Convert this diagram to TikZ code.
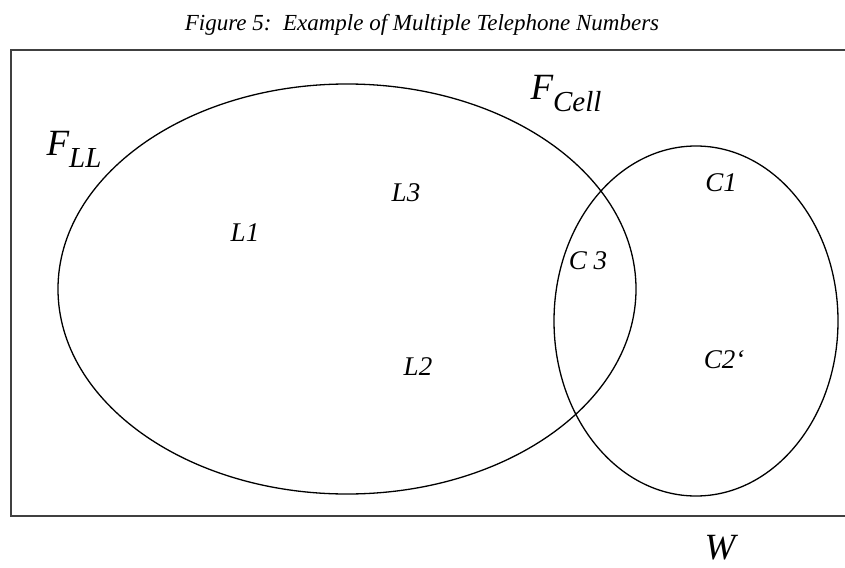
\documentclass[tikz,border=0pt]{standalone}
\usepackage{fontspec}
\setmainfont{Liberation Serif}
\begin{document}
\begin{tikzpicture}[x=1pt,y=-1pt,
  setline/.style={line width=1.3pt,black},
  frame/.style={line width=2.6pt,black!75},
  lbl/.style={inner sep=0pt,font=\fontsize{27}{27}\selectfont\itshape},
  biglbl/.style={inner sep=0pt,font=\fontsize{37}{37}\selectfont\itshape},
  ttl/.style={inner sep=0pt,font=\fontsize{23}{23}\selectfont\itshape}]
\useasboundingbox (0,0) rectangle (845,567);
\fill[white] (0,0) rectangle (845,567);
\node[ttl] (title) at (422,25) {Figure 5:\ \ Example of Multiple Telephone Numbers};
\draw[frame] (846,50) -- (11,50) -- (11,516) -- (846,516);
\draw[setline] (347,289) ellipse [x radius=289, y radius=205];
\draw[setline] (696,321) ellipse [x radius=142, y radius=175];
\node[biglbl] (fll) at (74,149) {F\raisebox{-12pt}{\fontsize{29}{29}\selectfont LL}};
\node[biglbl] (fcell) at (566,94) {F\raisebox{-12pt}{\fontsize{29}{29}\selectfont Cell}};
\node[lbl] (l1) at (245,233) {L1};
\node[lbl] (l3) at (406,193) {L3};
\node[lbl] (l2) at (418,367) {L2};
\node[lbl] (c3) at (588,261) {C 3};
\node[lbl] (c1) at (721,183) {C1};
\node[lbl] (c2) at (724,360) {C2`};
\node[biglbl] (w) at (720,548) {W};
\end{tikzpicture}
\end{document}
